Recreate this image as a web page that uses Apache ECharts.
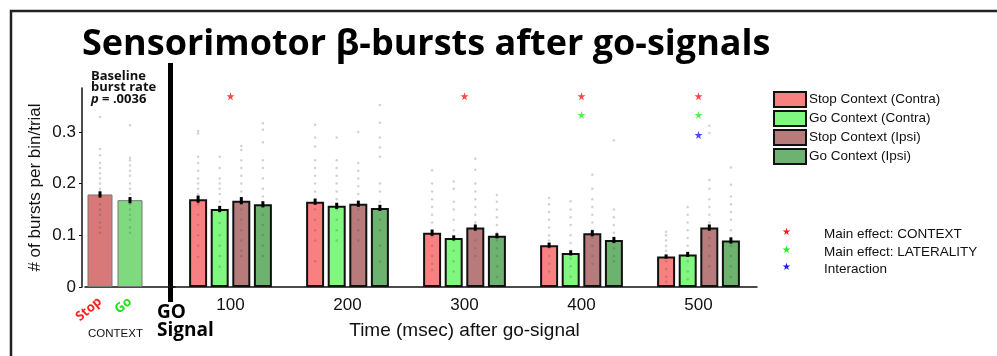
<!DOCTYPE html>
<html>
<head>
<meta charset="utf-8">
<script src="https://cdn.jsdelivr.net/npm/echarts@6/dist/echarts.min.js"></script>
<style>
html, body { margin: 0; padding: 0; background: #fff; }
#chart { width: 997px; height: 356px; }
</style>
</head>
<body>
<div id="chart"></div>
<script>
// baseline (pre go-signal) burst rate
const baseCats = ['Stop', 'Go', '']
const baseMeans = [0.179, 0.168]
const baseSem = [0.006, 0.006]
const baseDots = [
  [0.329, 0.267, 0.255, 0.24, 0.23, 0.22, 0.21, 0.2, 0.19, 0.185, 0.175, 0.16, 0.15, 0.14, 0.125, 0.115, 0.105],
  [0.313, 0.25, 0.245, 0.235, 0.225, 0.215, 0.2, 0.19, 0.18, 0.17, 0.16, 0.15, 0.14, 0.13, 0.115, 0.105]
]

// after go-signal, per time bin
const timeCats = ['100', '200', '300', '400', '500']
const seriesNames = ['Stop Context (Contra)', 'Go Context (Contra)', 'Stop Context (Ipsi)', 'Go Context (Ipsi)']
const stopContra = [0.170, 0.165, 0.105, 0.081, 0.059]
const goContra = [0.151, 0.157, 0.095, 0.066, 0.063]
const stopIpsi = [0.167, 0.161, 0.115, 0.104, 0.115]
const goIpsi = [0.160, 0.153, 0.099, 0.091, 0.090]
const semStopContra = [0.007, 0.006, 0.006, 0.005, 0.004]
const semGoContra = [0.006, 0.006, 0.005, 0.005, 0.005]
const semStopIpsi = [0.007, 0.006, 0.006, 0.006, 0.006]
const semGoIpsi = [0.006, 0.006, 0.005, 0.006, 0.006]

// single subject points
const dotsStopContra = [
  [0.302, 0.297, 0.252, 0.24, 0.225, 0.21, 0.2, 0.19, 0.18, 0.16, 0.14, 0.12, 0.1, 0.08, 0.058],
  [0.314, 0.289, 0.272, 0.245, 0.23, 0.215, 0.2, 0.185, 0.17, 0.15, 0.13, 0.11, 0.09, 0.05],
  [0.226, 0.2, 0.185, 0.17, 0.155, 0.14, 0.125, 0.11, 0.097, 0.08, 0.06, 0.045, 0.033],
  [0.172, 0.16, 0.145, 0.13, 0.115, 0.1, 0.09, 0.075, 0.06, 0.045, 0.03],
  [0.107, 0.1, 0.09, 0.08, 0.07, 0.06, 0.05, 0.035, 0.02, 0.01]
]
const dotsGoContra = [
  [0.252, 0.23, 0.21, 0.2, 0.19, 0.18, 0.165, 0.145, 0.124, 0.1, 0.08, 0.06, 0.039],
  [0.289, 0.245, 0.23, 0.215, 0.2, 0.185, 0.17, 0.15, 0.13, 0.11, 0.09],
  [0.204, 0.19, 0.165, 0.15, 0.13, 0.11, 0.09, 0.07, 0.05, 0.03],
  [0.166, 0.15, 0.135, 0.12, 0.1, 0.085, 0.07, 0.055, 0.04, 0.02],
  [0.155, 0.14, 0.125, 0.11, 0.095, 0.08, 0.065, 0.05, 0.03, 0.015]
]
const dotsStopIpsi = [
  [0.273, 0.265, 0.245, 0.23, 0.215, 0.2, 0.185, 0.17, 0.15, 0.13, 0.11, 0.09, 0.07, 0.06],
  [0.3, 0.24, 0.225, 0.21, 0.195, 0.18, 0.165, 0.15, 0.13, 0.11, 0.09],
  [0.248, 0.227, 0.2, 0.185, 0.17, 0.155, 0.14, 0.125, 0.11, 0.09, 0.075, 0.06],
  [0.217, 0.19, 0.17, 0.155, 0.14, 0.125, 0.11, 0.095, 0.08, 0.06, 0.045],
  [0.312, 0.298, 0.207, 0.19, 0.17, 0.155, 0.14, 0.125, 0.11, 0.095, 0.08, 0.06, 0.04]
]
const dotsGoIpsi = [
  [0.317, 0.304, 0.28, 0.245, 0.23, 0.21, 0.19, 0.175, 0.16, 0.14, 0.12, 0.1, 0.08, 0.06],
  [0.352, 0.318, 0.289, 0.27, 0.252, 0.2, 0.185, 0.165, 0.15, 0.13, 0.11, 0.08, 0.05],
  [0.178, 0.165, 0.15, 0.135, 0.12, 0.105, 0.09, 0.075, 0.06, 0.04, 0.02],
  [0.284, 0.15, 0.135, 0.12, 0.105, 0.09, 0.075, 0.06, 0.05],
  [0.231, 0.198, 0.175, 0.16, 0.145, 0.13, 0.11, 0.095, 0.08, 0.06, 0.04, 0.02]
]

// significance stars
const starsContext = ['100', '300', '400', '500']
const starsLaterality = ['400', '500']
const starsInteraction = ['500']
const starLevel = [0.369, 0.333, 0.294]

const yTicks = [0, 0.1, 0.2, 0.3]
const yMax = 0.385

const colors = ['#f88080', '#80f880', '#b87b7b', '#6db26f']
const baseColors = ['#d97878', '#7fda7f']
const offsets = [-32.4, -10.8, 10.8, 32.4]
const starPath = 'path://M50,0 L61,35 L98,35 L68,57 L79,91 L50,70 L21,91 L32,57 L2,35 L39,35 Z'
const font = 'Liberation Sans, Arial, sans-serif'

const chart = echarts.init(document.getElementById('chart'))

function errorSeries (gridIdx, means, sems, off) {
  return {
    type: 'custom',
    xAxisIndex: gridIdx,
    yAxisIndex: gridIdx,
    z: 5,
    silent: true,
    data: means.map((m, i) => [i, m, sems[i]]),
    renderItem: function (params, api) {
      const hi = api.coord([api.value(0), api.value(1) + api.value(2)])
      const lo = api.coord([api.value(0), api.value(1) - api.value(2)])
      const x = hi[0] + off
      return {
        type: 'line',
        shape: { x1: x, y1: hi[1], x2: x, y2: lo[1] },
        style: { stroke: '#000', lineWidth: 3 }
      }
    }
  }
}

function dotSeries (gridIdx, dots, off) {
  const data = []
  dots.forEach((list, i) => list.forEach(v => data.push([i, v])))
  return {
    type: 'scatter',
    xAxisIndex: gridIdx,
    yAxisIndex: gridIdx,
    z: 4,
    silent: true,
    symbolSize: 2.5,
    symbolOffset: [off, 0],
    itemStyle: { color: 'rgba(70,70,70,0.3)' },
    data: data
  }
}

function starSeries (cats, level, color) {
  return {
    type: 'scatter',
    xAxisIndex: 1,
    yAxisIndex: 1,
    symbol: starPath,
    symbolSize: 8,
    itemStyle: { color: color },
    data: cats.map(c => [c, level])
  }
}

const means = [stopContra, goContra, stopIpsi, goIpsi]
const sems = [semStopContra, semGoContra, semStopIpsi, semGoIpsi]
const dots = [dotsStopContra, dotsGoContra, dotsStopIpsi, dotsGoIpsi]

const series = []
// baseline
series.push({
  type: 'bar',
  xAxisIndex: 0,
  yAxisIndex: 0,
  barWidth: 25,
  data: baseMeans.map((v, i) => ({ value: v, itemStyle: { color: baseColors[i] } })),
  itemStyle: { borderColor: '#777', borderWidth: 1 }
})
series.push(errorSeries(0, baseMeans, baseSem, 0))
series.push(dotSeries(0, baseDots, 0))
// time bins
seriesNames.forEach((name, k) => {
  series.push({
    name: name,
    type: 'bar',
    xAxisIndex: 1,
    yAxisIndex: 1,
    barWidth: 18,
    barGap: '20%',
    itemStyle: { color: colors[k], borderColor: '#111', borderWidth: 2 },
    data: means[k]
  })
})
seriesNames.forEach((name, k) => {
  series.push(errorSeries(1, means[k], sems[k], offsets[k]))
  series.push(dotSeries(1, dots[k], offsets[k]))
})
series.push(starSeries(starsContext, starLevel[0], '#ff1a1a'))
series.push(starSeries(starsLaterality, starLevel[1], '#22ee22'))
series.push(starSeries(starsInteraction, starLevel[2], '#1a1aff'))

const option = {
  animation: false,
  backgroundColor: '#fff',
  title: {
    text: 'Sensorimotor β-bursts after go-signals',
    left: 77,
    top: 22,
    textStyle: { fontFamily: 'Open Sans', fontWeight: 'bold', fontSize: 36, color: '#000' }
  },
  legend: {
    data: seriesNames,
    orient: 'vertical',
    left: 768,
    top: 86,
    itemWidth: 32,
    itemHeight: 15,
    itemGap: 2,
    icon: 'rect',
    textStyle: { fontFamily: font, fontSize: 13.5, color: '#111', padding: [0, 0, 0, -2] }
  },
  grid: [
    { left: 85, width: 90, top: 88, bottom: 69 },
    { left: 172, width: 585, top: 88, bottom: 69 }
  ],
  xAxis: [
    {
      type: 'category',
      gridIndex: 0,
      data: baseCats,
      axisLine: { lineStyle: { color: '#111', width: 1.5 } },
      axisTick: { show: false },
      axisLabel: {
        rotate: 40,
        margin: 13,
        interval: 0,
        formatter: v => v === 'Stop' ? '{s|Stop}' : v === 'Go' ? '{g|Go}' : '',
        rich: {
          s: { color: '#ff2020', fontWeight: 'bold', fontSize: 13, fontFamily: 'Open Sans' },
          g: { color: '#20e020', fontWeight: 'bold', fontSize: 13, fontFamily: 'Open Sans' }
        }
      }
    },
    {
      type: 'category',
      gridIndex: 1,
      data: timeCats,
      name: 'Time (msec) after go-signal',
      nameLocation: 'middle',
      nameGap: 34,
      nameTextStyle: { fontFamily: font, fontSize: 19, color: '#111' },
      axisLine: { lineStyle: { color: '#111', width: 1.5 } },
      axisTick: { show: false },
      axisLabel: { fontFamily: font, fontSize: 17, color: '#111', margin: 10 }
    }
  ],
  yAxis: [
    {
      type: 'value',
      gridIndex: 0,
      min: 0,
      max: yMax,
      interval: 0.1,
      offset: 3,
      name: '# of bursts per bin/trial',
      nameLocation: 'middle',
      nameGap: 38,
      nameTextStyle: { fontFamily: font, fontSize: 17, color: '#111' },
      axisLine: { show: true, lineStyle: { color: '#111', width: 1.5 } },
      axisTick: { show: true, length: 3, lineStyle: { color: '#111' } },
      splitLine: { show: false },
      axisLabel: {
        fontFamily: font,
        fontSize: 17,
        color: '#111',
        margin: 6,
        showMaxLabel: false,
        formatter: v => yTicks.indexOf(Math.round(v * 10) / 10) < 0 ? '' : (v === 0 ? '0' : v.toFixed(1))
      }
    },
    {
      type: 'value',
      gridIndex: 1,
      min: 0,
      max: yMax,
      interval: 0.1,
      show: false,
      splitLine: { show: false }
    }
  ],
  series: series,
  graphic: [
    {
      type: 'polyline',
      shape: { points: [[11, 356], [11, 11], [997, 11]] },
      style: { stroke: '#222', lineWidth: 2.5, fill: null }
    },
    {
      type: 'line',
      shape: { x1: 170.5, y1: 63, x2: 170.5, y2: 302 },
      style: { stroke: '#000', lineWidth: 5 }
    },
    {
      type: 'text',
      left: 91,
      top: 70,
      style: {
        text: '{b|Baseline}\n{b|burst rate}\n{i|p} {b|= .0036}',
        rich: {
          b: { fontFamily: 'Open Sans', fontWeight: 'bold', fontSize: 13, lineHeight: 11, fill: '#111' },
          i: { fontFamily: 'Open Sans', fontWeight: 'bold', fontStyle: 'italic', fontSize: 13, lineHeight: 11, fill: '#111' }
        }
      }
    },
    {
      type: 'text',
      left: 88,
      top: 328,
      style: { text: 'CONTEXT', fontFamily: font, fontSize: 11.5, fill: '#111' }
    },
    {
      type: 'text',
      left: 157,
      top: 303,
      style: {
        text: 'GO\nSignal',
        fontFamily: 'Open Sans',
        fontWeight: 'bold',
        fontSize: 19,
        lineHeight: 18,
        fill: '#000'
      }
    },
    { type: 'text', left: 782, top: 227, style: { text: '★', fontSize: 10, fill: '#ff1a1a' } },
    { type: 'text', left: 782, top: 245, style: { text: '★', fontSize: 10, fill: '#22ee22' } },
    { type: 'text', left: 782, top: 262, style: { text: '★', fontSize: 10, fill: '#1a1aff' } },
    {
      type: 'text',
      left: 824,
      top: 226,
      style: {
        text: 'Main effect: CONTEXT\nMain effect: LATERALITY\nInteraction',
        fontFamily: font,
        fontSize: 13.5,
        lineHeight: 17.5,
        fill: '#111'
      }
    }
  ]
}

chart.setOption(option)
</script>
</body>
</html>
